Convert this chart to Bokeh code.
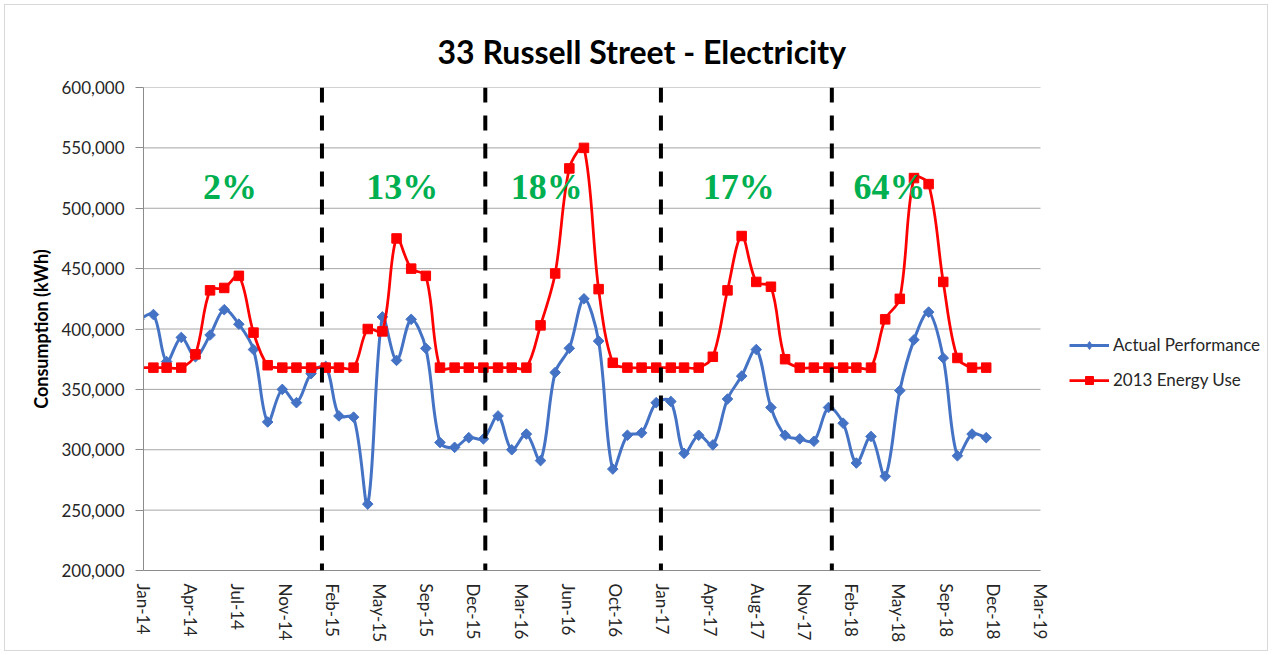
import numpy as np
import pandas as pd
from bokeh.plotting import figure
from bokeh.models import (Range1d, FixedTicker, DatetimeTickFormatter, NumeralTickFormatter,
                          Span, Legend, LegendItem, ColumnDataSource, Label)
from bokeh.embed import file_html
from bokeh.resources import INLINE

# ---------------- data ----------------
months = pd.date_range("2014-01-01", "2018-12-01", freq="MS")

actual_performance = [
    408000,
    412000, 373000, 393000, 377000, 395000, 416000, 404000, 383000, 323000, 350000, 339000,
    363000, 369000, 328000, 327000, 255000, 410000, 374000, 408000, 384000, 306000, 302000,
    310000, 309000, 328000, 300000, 313000, 291000, 364000, 384000, 425000, 390000, 284000,
    312000, 314000, 339000, 340000, 297000, 312000, 304000, 342000, 361000, 383000, 335000,
    312000, 309000, 307000, 335000, 322000, 289000, 311000, 278000, 349000, 391000, 414000,
    376000, 295000, 313000, 310000,
]

energy_2013 = [
    368000,
    368000, 368000, 368000, 379000, 432000, 434000, 444000, 397000, 370000, 368000, 368000,
    368000, 368000, 368000, 368000, 400000, 398000, 475000, 450000, 444000, 368000, 368000,
    368000, 368000, 368000, 368000, 368000, 403000, 446000, 533000, 550000, 433000, 372000,
    368000, 368000, 368000, 368000, 368000, 368000, 377000, 432000, 477000, 439000, 435000,
    375000, 368000, 368000, 368000, 368000, 368000, 368000, 408000, 425000, 525000, 520000,
    439000, 376000, 368000, 368000,
]

period_breaks = ["2015-01-24", "2016-01-05", "2017-01-11", "2018-01-08"]
savings_labels = ["2%", "13%", "18%", "17%", "64%"]
savings_x = ["2014-07-13", "2015-07-13", "2016-05-14", "2017-06-25", "2018-05-10"]
savings_y = [518000, 518000, 518000, 518000, 518000]

axis_start = pd.Timestamp("2014-01-11")
tick_step_days = 100
n_ticks = 20
y_ticks = [200000, 250000, 300000, 350000, 400000, 450000, 500000, 550000, 600000]
y_min, y_max = 200000, 600000

x_ms = np.asarray(pd.DatetimeIndex(months).asi8 // 10**6, dtype=float)
tick_ms = [float((axis_start + pd.Timedelta(days=tick_step_days * k)).value // 10**6) for k in range(n_ticks)]

# layout (pixels)
W, H = 1264, 647
BL, BR, BT, BB = 138, 4, 82, 82
AXIS_W = 897                      # width of the plotted date span
frame_w, frame_h = W - BL - BR, H - BT - BB
span_ms = tick_ms[-1] - tick_ms[0]
x_end = tick_ms[0] + span_ms * frame_w / AXIS_W
sx = AXIS_W / span_ms             # px per ms
sy = frame_h / (y_max - y_min)    # px per kWh


def smooth_segments(x, y):
    """Bezier control points for a smoothed line (chord-length weighted Catmull-Rom)."""
    x = np.asarray(x, float)
    y = np.asarray(y, float)
    n = len(x)
    xp = np.concatenate([[x[0]], x, [x[-1]]])
    yp = np.concatenate([[y[0]], y, [y[-1]]])
    d = np.hypot(np.diff(xp) * sx, np.diff(yp) * sy)
    x0, y0, x1, y1 = xp[1:n], yp[1:n], xp[2:n + 1], yp[2:n + 1]
    tx0, ty0 = xp[2:n + 1] - xp[0:n - 1], yp[2:n + 1] - yp[0:n - 1]
    tx1, ty1 = xp[3:n + 2] - xp[1:n], yp[3:n + 2] - yp[1:n]
    d_prev0, d_seg, d_next1 = d[0:n - 1], d[1:n], d[2:n + 1]
    s0 = np.where(d_prev0 + d_seg > 0, d_seg / np.maximum(d_prev0 + d_seg, 1e-9), 0.5) / 3.0
    s1 = np.where(d_seg + d_next1 > 0, d_seg / np.maximum(d_seg + d_next1, 1e-9), 0.5) / 3.0
    return dict(x0=x0, y0=y0, x1=x1, y1=y1,
                cx0=x0 + tx0 * s0, cy0=y0 + ty0 * s0,
                cx1=x1 - tx1 * s1, cy1=y1 - ty1 * s1)


BLUE = "#4472C4"
RED = "#FF0000"
GREEN = "#00B050"
FONT = "Lato"
TXT = "#262626"
GRID = "#A6A6A6"
AXC = "#8C8C8C"

p = figure(width=W, height=H, output_backend="svg", toolbar_location=None,
           x_axis_type="datetime",
           x_range=Range1d(tick_ms[0], x_end), y_range=Range1d(y_min, y_max),
           min_border_left=BL, min_border_right=BR, min_border_top=BT, min_border_bottom=BB)
p.styles = {"border": "1px solid #D9D9D9", "position": "relative", "left": "4px",
            "margin-top": "4px"}
p.outline_line_color = None
p.background_fill_color = "white"
p.border_fill_color = "white"

# title
p.title.text = "33 Russell Street - Electricity"
p.title.text_font = FONT
p.title.text_font_style = "bold"
p.title.text_font_size = "32px"
p.title.text_color = "black"
p.title.align = "left"
p.title.offset = 294
p.title.standoff = 34

# axes
xa = p.xaxis[0]
xa.ticker = FixedTicker(ticks=tick_ms)
xa.bounds = (tick_ms[0], tick_ms[-1])
fmt = "%b-%y"
xa.formatter = DatetimeTickFormatter(days=fmt, months=fmt, years=fmt, hours=fmt, minutes=fmt,
                                     seconds=fmt, milliseconds=fmt, microseconds=fmt, hourmin=fmt,
                                     minsec=fmt)
xa.major_label_orientation = "vertical"
xa.major_label_text_font = FONT
xa.major_label_text_font_size = "17px"
xa.major_label_text_color = TXT
xa.major_tick_out = 0
xa.major_tick_in = 0
xa.minor_tick_out = 0
xa.minor_tick_in = 0
xa.major_label_standoff = 13
xa.axis_line_color = AXC

ya = p.yaxis[0]
ya.ticker = FixedTicker(ticks=y_ticks)
ya.formatter = NumeralTickFormatter(format="0,0")
ya.major_label_text_font = FONT
ya.major_label_text_font_size = "17px"
ya.major_label_text_color = TXT
ya.major_tick_out = 8
ya.major_tick_in = 0
ya.minor_tick_out = 0
ya.minor_tick_in = 0
ya.major_tick_line_color = AXC
ya.axis_line_color = AXC
ya.major_label_standoff = 11
ya.axis_label = "Consumption (kWh)"
ya.axis_label_text_font = FONT
ya.axis_label_text_font_style = "bold"
ya.axis_label_text_font_size = "18px"
ya.axis_label_text_color = "black"
ya.axis_label_standoff = 6

p.xgrid.grid_line_color = None
p.ygrid.grid_line_color = None

# horizontal gridlines limited to the date span of the axis
p.segment(x0=[tick_ms[0]] * len(y_ticks), x1=[tick_ms[-1]] * len(y_ticks),
          y0=y_ticks, y1=y_ticks, line_color=GRID, line_width=1)

# period break lines
for d in period_breaks:
    p.add_layout(Span(location=float(pd.Timestamp(d).value // 10**6), dimension="height",
                      line_color="black", line_width=4, line_dash="15 13"))

# series
src_blue = ColumnDataSource(dict(x=x_ms, y=actual_performance))
src_red = ColumnDataSource(dict(x=x_ms, y=energy_2013))
bz_blue = p.bezier(source=ColumnDataSource(smooth_segments(x_ms, actual_performance)),
                   x0="x0", y0="y0", x1="x1", y1="y1", cx0="cx0", cy0="cy0", cx1="cx1", cy1="cy1",
                   line_color=BLUE, line_width=3)
sc_blue = p.scatter("x", "y", source=src_blue, marker="square", angle=np.pi / 4, size=7.5,
                    fill_color=BLUE, line_color=BLUE)
bz_red = p.bezier(source=ColumnDataSource(smooth_segments(x_ms, energy_2013)),
                  x0="x0", y0="y0", x1="x1", y1="y1", cx0="cx0", cy0="cy0", cx1="cx1", cy1="cy1",
                  line_color=RED, line_width=2.75)
sc_red = p.scatter("x", "y", source=src_red, marker="square", size=9.5,
                   fill_color=RED, line_color=RED)

# legend key marker: diamond on the first (off-axis, clipped) point of the series
blue_key = p.scatter(x=x_ms[:1], y=actual_performance[:1], marker="diamond", size=12,
                     fill_color=BLUE, line_color=BLUE)

# savings labels
for t, xd, yv in zip(savings_labels, savings_x, savings_y):
    p.add_layout(Label(x=float(pd.Timestamp(xd).value // 10**6), y=yv, text=t,
                       text_font="Liberation Serif", text_font_style="bold",
                       text_font_size="36px", text_color=GREEN,
                       text_align="center", text_baseline="middle"))

legend = Legend(items=[LegendItem(label="Actual Performance", renderers=[bz_blue, blue_key]),
                       LegendItem(label="2013 Energy Use", renderers=[bz_red, sc_red])],
                location=(926, 180), padding=0, margin=0, spacing=14,
                glyph_width=40, glyph_height=20, label_height=20, label_standoff=4,
                label_text_font=FONT, label_text_font_size="17px", label_text_color=TXT,
                border_line_color=None, background_fill_alpha=0)
p.add_layout(legend)

open("out.html", "w").write(file_html(p, INLINE))
